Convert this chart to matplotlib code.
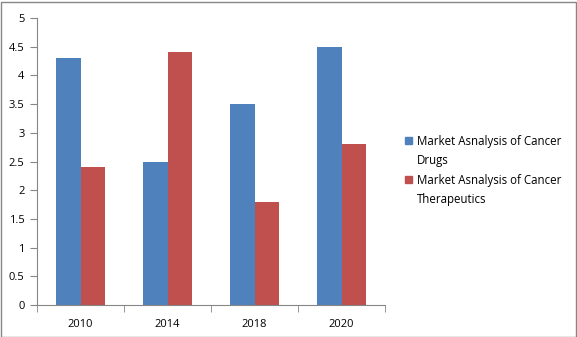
import matplotlib.pyplot as plt
import numpy as np

years = ["2010", "2014", "2018", "2020"]
drugs = [4.3, 2.5, 3.5, 4.5]
therapeutics = [2.4, 4.4, 1.8, 2.8]
series_names = ["Market Asnalysis of Cancer\nDrugs",
                "Market Asnalysis of Cancer\nTherapeutics"]

blue = "#4F81BD"
red = "#C0504D"
axis_grey = "#868686"

plt.rcParams["font.family"] = ["Open Sans", "DejaVu Sans"]

W, H = 577, 337
fig = plt.figure(figsize=(W / 100, H / 100), dpi=100)
ax = fig.add_axes([37 / W, 32 / H, 348 / W, 287 / H])

x = np.arange(len(years))
w = 1 / 3.5
ax.bar(x - w / 2, drugs, w, color=blue)
ax.bar(x + w / 2, therapeutics, w, color=red)

ax.set_xlim(-0.5, len(years) - 0.5)
ax.set_ylim(0, 5)
yt = np.arange(0, 5.01, 0.5)
ax.set_yticks(yt)
ax.set_yticklabels([f"{v:g}" for v in yt])
ax.set_xticks(x)
ax.set_xticklabels(years)
ax.set_xticks(np.arange(-0.5, len(years)), minor=True)
ax.tick_params(axis="x", which="major", length=0, pad=10)
ax.tick_params(axis="x", which="minor", length=5, color=axis_grey)
ax.tick_params(axis="y", length=5, color=axis_grey, pad=4)
ax.tick_params(labelsize=8)

for side in ["top", "right"]:
    ax.spines[side].set_visible(False)
for side in ["left", "bottom"]:
    ax.spines[side].set_color(axis_grey)

# legend drawn by hand: square beside the first line of each wrapped label
for i, (name, col) in enumerate(zip(series_names, [blue, red])):
    top = 137 + i * 39
    fig.patches.append(plt.Rectangle((405 / W, 1 - (top + 7) / H), 7 / W, 7 / H,
                                     transform=fig.transFigure, color=col))
    fig.text(417 / W, 1 - (top - 2) / H, name, fontsize=8.3, va="top",
             linespacing=1.6)

# outer chart border
fig.patches.append(plt.Rectangle((0.5 / W, 0.5 / H), (W - 2) / W, (H - 2) / H,
                                 transform=fig.transFigure, fill=False,
                                 edgecolor=axis_grey, linewidth=1))

fig.savefig("out.png", dpi=100)
